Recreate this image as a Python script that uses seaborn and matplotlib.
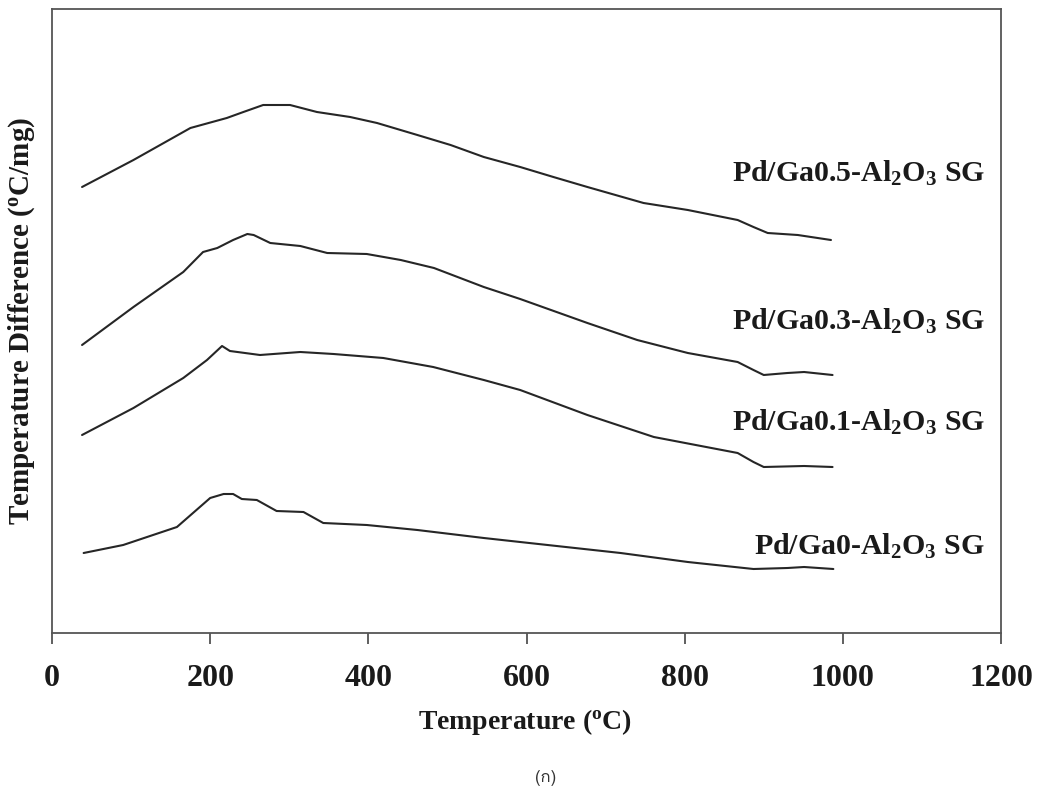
import numpy as np
import pandas as pd
import matplotlib
matplotlib.use("Agg")
import matplotlib.pyplot as plt
from matplotlib import font_manager
from matplotlib.ft2font import FT2Font
import seaborn as sns

# DTA traces (temperature in °C, temperature difference in arbitrary offset units)
temp_ga05 = [38, 103, 175, 221, 242, 267, 301, 335, 377, 411, 462, 504, 546, 592,
             634, 677, 748, 804, 867, 887, 905, 943, 985]
dta_ga05 = [4.46, 4.73, 5.05, 5.15, 5.21, 5.28, 5.28, 5.21, 5.16, 5.10, 4.98, 4.88,
            4.76, 4.66, 4.56, 4.46, 4.30, 4.23, 4.13, 4.06, 4.00, 3.98, 3.93]

temp_ga03 = [38, 103, 166, 191, 209, 229, 247, 255, 276, 314, 348, 398, 441, 483,
             546, 592, 677, 740, 804, 867, 887, 900, 930, 951, 987]
dta_ga03 = [2.88, 3.26, 3.61, 3.81, 3.85, 3.93, 3.99, 3.98, 3.90, 3.87, 3.80, 3.79,
            3.73, 3.65, 3.46, 3.34, 3.10, 2.93, 2.80, 2.71, 2.63, 2.58, 2.60, 2.61, 2.58]

temp_ga01 = [38, 103, 166, 196, 215, 225, 263, 314, 356, 419, 482, 546, 592, 677,
             761, 867, 887, 900, 951, 987]
dta_ga01 = [1.98, 2.25, 2.55, 2.73, 2.87, 2.82, 2.78, 2.81, 2.79, 2.75, 2.66, 2.53,
            2.43, 2.18, 1.96, 1.80, 1.71, 1.66, 1.67, 1.66]

temp_ga0 = [40, 90, 158, 200, 217, 229, 240, 259, 284, 318, 343, 398, 462, 546,
            592, 719, 804, 887, 930, 951, 988]
dta_ga0 = [0.80, 0.88, 1.06, 1.35, 1.39, 1.39, 1.34, 1.33, 1.22, 1.21, 1.10, 1.08,
           1.03, 0.95, 0.91, 0.80, 0.71, 0.64, 0.65, 0.66, 0.64]

sample_names = [r"Pd/Ga0.5-Al$_2$O$_3$ SG", r"Pd/Ga0.3-Al$_2$O$_3$ SG",
                r"Pd/Ga0.1-Al$_2$O$_3$ SG", r"Pd/Ga0-Al$_2$O$_3$ SG"]
label_y = [4.60, 3.12, 2.11, 0.87]
x_ticks = [0, 200, 400, 600, 800, 1000, 1200]
panel_tag = "(ก)"

traces = [(temp_ga05, dta_ga05), (temp_ga03, dta_ga03),
          (temp_ga01, dta_ga01), (temp_ga0, dta_ga0)]
frames = []
for name, (t, d) in zip(sample_names, traces):
    frames.append(pd.DataFrame({"temp": t, "dta": d, "sample": name}))
df = pd.concat(frames, ignore_index=True)


def families_with_glyph(char):
    """Installed font families whose charmap contains the given character."""
    found = []
    for entry in font_manager.fontManager.ttflist:
        try:
            if ord(char) in FT2Font(entry.fname).get_charmap():
                if entry.name not in found:
                    found.append(entry.name)
        except Exception:
            continue
    return found


sns.set_theme(style="white")
plt.rcParams["font.family"] = ["Liberation Serif", "DejaVu Serif"]
plt.rcParams["font.weight"] = "bold"
plt.rcParams["mathtext.fontset"] = "custom"
plt.rcParams["mathtext.rm"] = "Liberation Serif:bold"
plt.rcParams["mathtext.it"] = "Liberation Serif:bold"
plt.rcParams["mathtext.bf"] = "Liberation Serif:bold"
plt.rcParams["mathtext.default"] = "bf"

fig = plt.figure(figsize=(10.41, 7.94), dpi=100)
ax = fig.add_axes([52 / 1041, (794 - 633) / 794, (1001 - 52) / 1041, (633 - 9) / 794])

sns.lineplot(data=df, x="temp", y="dta", hue="sample", units="sample",
             estimator=None, sort=False, palette=["#262626"] * 4,
             linewidth=1.5, legend=False, ax=ax)

ax.set_xlim(0, 1200)
ax.set_ylim(0, 6.24)
ax.set_xticks(x_ticks)
ax.set_xticklabels([str(v) for v in x_ticks], fontsize=23, fontweight="bold",
                   color="#1a1a1a")
ax.set_yticks([])
ax.tick_params(axis="x", direction="out", length=8, width=1.2, color="#444444",
               pad=14, bottom=True)
for side in ["left", "right", "top", "bottom"]:
    ax.spines[side].set_visible(True)
    ax.spines[side].set_color("#555555")
    ax.spines[side].set_linewidth(1.3)

ax.set_xlabel(r"Temperature ($^{o}$C)", fontsize=20, fontweight="bold",
              color="#1a1a1a")
ax.xaxis.set_label_coords(0.498, -0.143)
ax.xaxis.label.set_va("center")
ax.set_ylabel(r"Temperature Difference ($^{o}$C/mg)", fontsize=21,
              fontweight="bold", color="#1a1a1a")
ax.yaxis.set_label_coords(-0.032, 0.50)
ax.yaxis.label.set_va("center")

for name, y in zip(sample_names, label_y):
    ax.text(1180, y, name, ha="right", va="center", fontsize=21.5,
            fontweight="bold", color="#1a1a1a")

thai_fams = families_with_glyph(panel_tag[1])
fig.text(546 / 1041, 1 - 778 / 794, panel_tag, ha="center", va="center",
         fontsize=12, fontweight="normal", color="#333333",
         family=thai_fams[:1] + ["DejaVu Sans"])

fig.savefig("out.png", dpi=100, facecolor="white")
